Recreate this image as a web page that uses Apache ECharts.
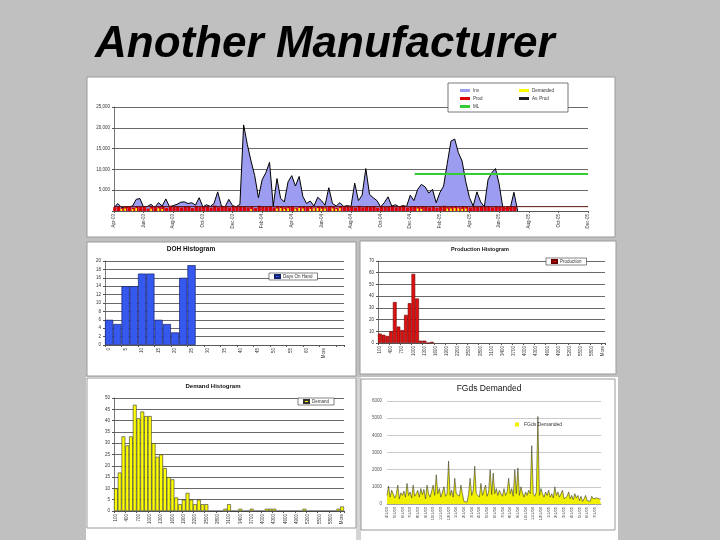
<!DOCTYPE html>
<html><head><meta charset="utf-8">
<script src="https://cdn.jsdelivr.net/npm/echarts/dist/echarts.min.js"></script>
<style>html,body{margin:0;padding:0;background:#c0c0c0}#c{width:720px;height:540px}</style>
</head><body><div id="c"></div><script>
const FONT = '"Liberation Sans", Arial, sans-serif';

// ---- Top chart (inventory timeline) ----
const topTicks = ['Apr-03','Jun-03','Aug-03','Oct-03','Dec-03','Feb-04','Apr-04','Jun-04','Aug-04','Oct-04','Dec-04','Feb-05','Apr-05','Jun-05','Aug-05','Oct-05','Dec-05'];
const STEP = 0.25; // quarter month per sample
const inv = [800,1800,900,700,1000,1200,2800,3000,900,1100,
1600,800,2000,1200,2900,1000,1300,1600,2100,2200,
1800,2000,1400,3200,1000,1500,1100,1800,4600,1200,
1000,2800,1300,1000,1600,20700,16000,12000,8500,3200,
7500,9200,11700,1200,7800,3000,2200,7000,8500,6000,
8300,3500,1800,2400,1200,3300,2500,1400,5600,1800,
1200,2000,1100,1300,1100,6700,2500,3800,10200,4000,
3200,2500,1000,2000,3400,1200,1500,1000,1300,1100,
3800,2500,5200,6400,5800,4300,5200,2000,4400,6000,
11500,16800,17300,14000,12000,7000,3200,1200,4600,2200,
1000,7500,9200,10200,6500,800,600,700,4500,0];
const prod = [900,1100,700,1200,1000,800,1150,950,1050,600,
1200,900,1000,1100,750,1250,950,1000,850,1150,
1050,700,1200,950,1000,1100,800,1300,900,1000,
1150,850,1050,950,1200,1000,900,1100,700,1250,
1000,950,1100,850,1200,1000,900,1050,1150,800,
1000,1100,950,1200,850,1000,1050,900,1150,1000,
800,1200,950,1100,1000,850,1250,900,1050,1000,
1150,800,1100,950,1000,1200,900,1050,1100,850,
1000,1150,950,1200,1000,900,1100,800,1050,1250,
950,1000,1100,900,1150,1000,850,1200,950,1050,
1000,1100,900,1150,1000,950,1050,1200,1000,0];
const demTop = [0,0,500,600,0,450,700,0,0,0,
550,0,650,500,0,0,0,0,0,0,
0,0,0,0,0,0,0,0,0,0,
0,0,0,0,0,0,0,400,0,0,
0,0,0,0,600,700,500,650,0,550,
700,600,0,500,650,700,550,600,0,650,
500,700,0,0,0,0,0,0,0,0,
0,0,0,0,0,0,0,0,0,0,
0,0,600,500,0,0,0,0,0,0,
550,600,700,650,500,600,0,0,0,0,
0,0,0,0,0,0,0,0,0,0];
const avgProd = 1050;
const mlLevel = 8900;
const mlStart = 20.3;
const topEnd = 32;

// ---- DOH histogram ----
const dohBins = ['0','2.5','5','7.5','10','12.5','15','17.5','20','22.5','25','27.5','30','32.5','35','37.5','40','42.5','45','47.5','50','52.5','55','57.5','60','62.5','More','',''];
const dohCounts = [6,5,14,14,17,17,6,5,3,16,19];

// ---- Production & Demand histograms (shared bins) ----
const qtyBins = ['100','200','300','400','500','600','700','800','900','1000',
'1100','1200','1300','1400','1500','1600','1700','1800','1900','2000',
'2100','2200','2300','2400','2500','2600','2700','2800','2900','3000',
'3100','3200','3300','3400','3500','3600','3700','3800','3900','4000',
'4100','4200','4300','4400','4500','4600','4700','4800','4900','5000',
'5100','5200','5300','5400','5500','5600','5700','5800','5900','6000','More'];
const prodCounts = [8,7,6,10,35,14,11,24,34,59,38,2,2,0,1];
const demCounts = [10,17,33,29,33,47,41,44,42,42,30,24,25,19,15,14,6,3,5,8,5,3,5,3,3,
0,0,0,0,1,3,0,0,1,0,0,1,0,0,0,1,1,1,0,0,0,0,0,0,0,1,0,0,0,0,0,0,0,0,1,2];

// ---- FGds Demanded ----
const fgTicks = ['4/1/03','5/1/03','6/1/03','7/1/03','8/1/03','9/1/03','10/1/03','11/1/03','12/1/03','1/1/04','2/1/04','3/1/04','4/1/04','5/1/04','6/1/04','7/1/04','8/1/04','9/1/04','10/1/04','11/1/04','12/1/04','1/1/05','2/1/05','3/1/05','4/1/05','5/1/05','6/1/05','7/1/05'];
const fgPerTick = 5;
const fgValues = [500,1050,400,800,600,350,550,1100,300,650,
500,750,400,1200,500,700,350,1100,450,600,
800,400,900,550,850,300,1100,600,400,750,
1100,500,1700,600,900,400,700,1000,450,600,
2500,500,800,400,1500,600,700,450,1100,600,
150,80,100,600,1500,500,800,2200,600,700,
400,1200,500,800,1100,450,700,2000,550,1800,
600,900,500,800,600,450,900,500,700,1500,
600,900,450,2000,600,2100,500,1000,650,400,
700,500,800,600,3400,600,450,700,5100,500,
900,600,400,700,500,800,400,600,350,1000,
500,700,400,600,800,300,200,450,700,300,
500,250,600,350,500,200,450,150,300,500,
200,250,150,450,300,200,350,250,300,280];

const chart = echarts.init(document.getElementById('c'), null, {renderer:'canvas'});

const lbl = (size, extra) => Object.assign({fontSize:size, color:'#333', fontFamily:FONT}, extra||{});
const darkSplit = {show:true, lineStyle:{color:'#444', width:0.8}};
const axLine = {show:true, lineStyle:{color:'#555', width:0.8}};

function catAxis(gi, data, interval, extra) {
  return Object.assign({type:'category', gridIndex:gi, data:data, boundaryGap:true,
    axisLine:axLine, axisTick:{show:true, length:2, interval:interval, lineStyle:{color:'#555'}},
    axisLabel:lbl(4.5,{rotate:90, interval:interval, margin:3}), splitLine:{show:false}}, extra||{});
}
function valAxis(gi, max, interval, extra) {
  return Object.assign({type:'value', gridIndex:gi, min:0, max:max, interval:interval,
    axisLine:axLine, axisTick:{show:true, length:2, lineStyle:{color:'#555'}},
    axisLabel:lbl(4.5,{margin:4}), splitLine:darkSplit}, extra||{});
}

const legendBase = {orient:'vertical', itemGap:3, itemWidth:10, itemHeight:3, selectedMode:false,
  textStyle:{fontSize:4.5, color:'#333', fontFamily:FONT, padding:[0,0,0,-2]}, padding:0};
const boxLegend = (name, left, top) => Object.assign({}, legendBase, {data:[{name:name, icon:'rect'}], left:left, top:top,
  itemWidth:5, itemHeight:3, backgroundColor:'#fff', borderColor:'#333', borderWidth:0.6, padding:[1,5,1,5]});

const option = {
  backgroundColor:'#c0c0c0',
  animation:false,
  graphic:{elements:[
    {type:'rect', z:0, shape:{x:87,y:77,width:528,height:160}, style:{fill:'#fff', stroke:'#9a9a9a', lineWidth:1}},
    {type:'rect', z:0, shape:{x:87,y:242,width:269,height:134}, style:{fill:'#fff', stroke:'#9a9a9a', lineWidth:1}},
    {type:'rect', z:0, shape:{x:360,y:241,width:256,height:133}, style:{fill:'#fff', stroke:'#9a9a9a', lineWidth:1}},
    {type:'rect', z:0, shape:{x:86,y:377,width:532,height:163}, style:{fill:'#fff'}},
    {type:'rect', z:0, shape:{x:356,y:377,width:5,height:163}, style:{fill:'#d4d4d4'}},
    {type:'rect', z:0, shape:{x:87,y:378,width:269,height:150}, style:{fill:'#fff', stroke:'#9a9a9a', lineWidth:1}},
    {type:'rect', z:0, shape:{x:361,y:379,width:254,height:151}, style:{fill:'#fff', stroke:'#9a9a9a', lineWidth:1}},
    {type:'rect', z:3, shape:{x:448,y:83,width:120,height:29}, style:{fill:'#fff', stroke:'#555', lineWidth:0.8}},
    {type:'text', z:5, x:95, y:45, style:{text:'Another Manufacturer', font:'italic bold 44px "Liberation Sans", Arial, sans-serif', fill:'#000', textAlign:'left', verticalAlign:'middle', textVerticalAlign:'middle'}},
    {type:'text', z:5, x:191, y:249, style:{text:'DOH Histogram', font:'bold 6.5px "Liberation Sans", Arial, sans-serif', fill:'#111', textAlign:'center', verticalAlign:'middle', textVerticalAlign:'middle'}},
    {type:'text', z:5, x:480, y:249, style:{text:'Production Histogram', font:'bold 5.5px "Liberation Sans", Arial, sans-serif', fill:'#111', textAlign:'center', verticalAlign:'middle', textVerticalAlign:'middle'}},
    {type:'text', z:5, x:213, y:386, style:{text:'Demand Histogram', font:'bold 6px "Liberation Sans", Arial, sans-serif', fill:'#111', textAlign:'center', verticalAlign:'middle', textVerticalAlign:'middle'}},
    {type:'text', z:5, x:489, y:389, style:{text:'FGds Demanded', font:'8.5px "Liberation Sans", Arial, sans-serif', fill:'#111', textAlign:'center', verticalAlign:'middle', textVerticalAlign:'middle'}}
  ]},
  grid:[
    {left:114, top:107, width:474, height:104, show:true, backgroundColor:'#ffffcc', borderWidth:0},
    {left:105, top:261, width:239, height:84, show:true, backgroundColor:'#ffffcc', borderWidth:0},
    {left:378, top:261, width:227, height:82, show:true, backgroundColor:'#ffffcc', borderWidth:0},
    {left:114, top:398, width:230, height:113, show:true, backgroundColor:'#ffffc4', borderWidth:0},
    {left:387, top:401, width:214, height:103, show:false}
  ],
  xAxis:[
    {type:'value', gridIndex:0, min:0, max:topEnd, interval:2,
      axisLine:axLine, axisTick:{show:true, length:2, lineStyle:{color:'#555'}},
      axisLabel:lbl(4.5,{rotate:90, margin:3, formatter:v => topTicks[Math.round(v/2)] || ''}),
      splitLine:{show:false}},
    catAxis(1, dohBins, 1),
    catAxis(2, qtyBins, 2),
    catAxis(3, qtyBins, 2),
    catAxis(4, fgValues.map((v,i)=>String(i)), fgPerTick-1, {boundaryGap:false,
      axisLine:{show:true, lineStyle:{color:'#999', width:0.8}},
      axisTick:{show:false},
      axisLabel:lbl(4,{rotate:90, interval:fgPerTick-1, margin:3, formatter:(v,i)=> fgTicks[i/fgPerTick] || ''})})
  ],
  yAxis:[
    valAxis(0, 25000, 5000, {axisLabel:lbl(4.5,{margin:4, formatter:v => v===0 ? '' : v.toLocaleString('en-US')})}),
    valAxis(1, 20, 2),
    valAxis(2, 70, 10),
    valAxis(3, 50, 5),
    valAxis(4, 6000, 1000, {axisLine:{show:false}, axisTick:{show:false},
      axisLabel:lbl(4.5,{margin:5, color:'#555', formatter:v => String(v)}), splitLine:{show:true, lineStyle:{color:'#bdbdbd', width:0.8}}})
  ],
  legend:[
    Object.assign({}, legendBase, {left:460, top:88, data:[{name:'Inv',icon:'rect'},{name:'Prod',icon:'rect'},{name:'ML',icon:'rect'}]}),
    Object.assign({}, legendBase, {left:519, top:88, data:[{name:'Demanded',icon:'rect'},{name:'Av. Prod',icon:'rect'}]}),
    boxLegend('Days On Hand', 269, 273),
    boxLegend('Production', 546, 258),
    boxLegend('Demand', 298, 398),
    Object.assign({}, legendBase, {left:515, top:422, data:[{name:'FGds Demanded', icon:'rect'}], itemWidth:4, itemHeight:4, textStyle:{fontSize:5, color:'#333', fontFamily:FONT}})
  ],
  series:[
    {name:'Inv', type:'line', xAxisIndex:0, yAxisIndex:0, data:inv.map((v,i)=>[i*STEP, v]), symbol:'none',
      lineStyle:{color:'#000', width:1}, areaStyle:{color:'#9c9cf0', opacity:1}, itemStyle:{color:'#9c9cf0'}, z:2},
    {name:'Prod', type:'bar', xAxisIndex:0, yAxisIndex:0, data:prod.map((v,i)=>[i*STEP, v]), barWidth:3.2, barGap:'-100%',
      itemStyle:{color:'#dd0000'}, z:3},
    {name:'Demanded', type:'bar', xAxisIndex:0, yAxisIndex:0, data:demTop.map((v,i)=>[i*STEP, v]), barWidth:1.6, barGap:'-100%',
      itemStyle:{color:'#ffff00'}, z:4},
    {name:'Av. Prod', type:'line', xAxisIndex:0, yAxisIndex:0, data:[[0,avgProd],[topEnd,avgProd]], symbol:'none',
      lineStyle:{color:'#5a1010', width:1}, itemStyle:{color:'#222'}, z:5},
    {name:'ML', type:'line', xAxisIndex:0, yAxisIndex:0, data:[[mlStart,mlLevel],[topEnd,mlLevel]], symbol:'none',
      lineStyle:{color:'#33cc33', width:2}, itemStyle:{color:'#33cc33'}, z:5},
    {name:'Days On Hand', type:'bar', xAxisIndex:1, yAxisIndex:1, data:dohCounts, barCategoryGap:'0%',
      itemStyle:{color:'#3558ee', borderColor:'#16236e', borderWidth:0.7}},
    {name:'Production', type:'bar', xAxisIndex:2, yAxisIndex:2, data:prodCounts, barCategoryGap:'0%',
      itemStyle:{color:'#dd1111', borderColor:'#700000', borderWidth:0.6}},
    {name:'Demand', type:'bar', xAxisIndex:3, yAxisIndex:3, data:demCounts, barCategoryGap:'0%',
      itemStyle:{color:'#ffff00', borderColor:'#333', borderWidth:0.6}},
    {name:'FGds Demanded', type:'line', xAxisIndex:4, yAxisIndex:4, data:fgValues, symbol:'none',
      lineStyle:{color:'#3a3a2a', width:0.6}, areaStyle:{color:'#f0f000', opacity:1}, itemStyle:{color:'#f0f000'}}
  ]
};
chart.setOption(option);
</script></body></html>
